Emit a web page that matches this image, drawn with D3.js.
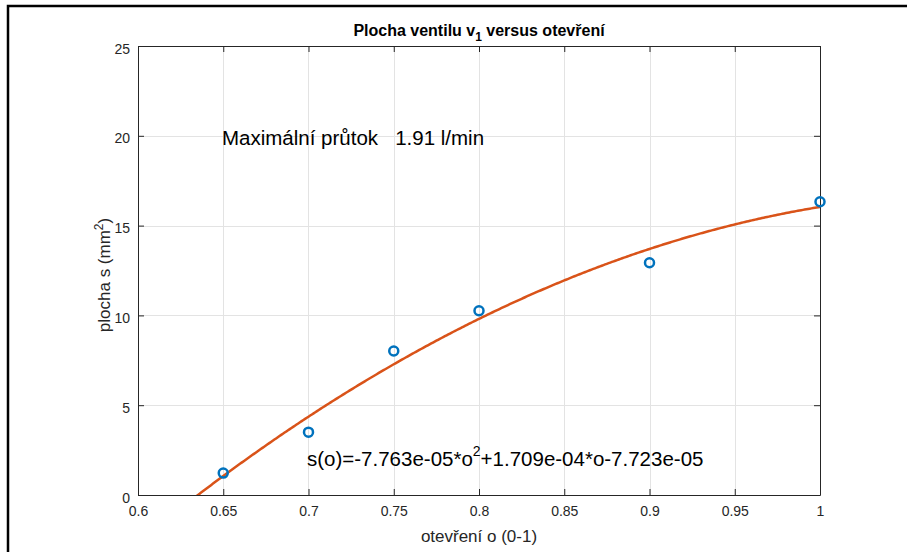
<!DOCTYPE html>
<html><head><meta charset="utf-8">
<script src="https://cdn.jsdelivr.net/npm/d3@7"></script>
<style>body{margin:0;background:#fff}svg{display:block}text{font-family:"Liberation Sans",Arial,sans-serif}</style>
</head><body>
<script>
const openings = [0.65, 0.7, 0.75, 0.8, 0.9, 1.0];
const areas = [1.22, 3.5, 8.02, 10.26, 12.93, 16.33];
const fitCoeffs = [-7.763e-05, 1.709e-04, -7.723e-05]; // m^2 -> shown in mm^2
const xTicks = [0.6, 0.65, 0.7, 0.75, 0.8, 0.85, 0.9, 0.95, 1];
const yTicks = [0, 5, 10, 15, 20, 25];
const xTickLabels = ["0.6","0.65","0.7","0.75","0.8","0.85","0.9","0.95","1"];
const yTickLabels = ["0","5","10","15","20","25"];

(function(){
const W = 907, H = 552;
const L = 138, R = 820, T = 46, B = 495;
const svg = d3.select("body").append("svg").attr("width", W).attr("height", H);
svg.append("rect").attr("width", W).attr("height", H).attr("fill", "#fff");
// figure border
svg.append("path").attr("d", `M8,${H} L8,6 L${W},6`).attr("fill","none").attr("stroke","#000").attr("stroke-width",2.5);

const x = d3.scaleLinear().domain([0.6, 1]).range([L, R]);
const y = d3.scaleLinear().domain([0, 25]).range([B, T]);

// grid
const g = svg.append("g");
g.selectAll(".gx").data(xTicks).join("line")
  .attr("x1", d => Math.round(x(d))+0.5).attr("x2", d => Math.round(x(d))+0.5)
  .attr("y1", T).attr("y2", B).attr("stroke", "#e3e3e3").attr("stroke-width", 1);
g.selectAll(".gy").data(yTicks).join("line")
  .attr("y1", d => Math.round(y(d))+0.5).attr("y2", d => Math.round(y(d))+0.5)
  .attr("x1", L).attr("x2", R).attr("stroke", "#e3e3e3").attr("stroke-width", 1);

// axes (MATLAB style: inward ticks, box on)
const tl = 6;
const axCol = "#262626";
const axB = svg.append("g").attr("transform", `translate(0,${B})`)
  .call(d3.axisBottom(x).tickValues(xTicks).tickFormat((d,i)=>xTickLabels[i]).tickSizeInner(-tl).tickSizeOuter(0));
const axL = svg.append("g").attr("transform", `translate(${L},0)`)
  .call(d3.axisLeft(y).tickValues(yTicks).tickFormat((d,i)=>yTickLabels[i]).tickSizeInner(-tl).tickSizeOuter(0));
const axT = svg.append("g").attr("transform", `translate(0,${T})`)
  .call(d3.axisTop(x).tickValues(xTicks).tickFormat("").tickSizeInner(-tl).tickSizeOuter(0));
const axR = svg.append("g").attr("transform", `translate(${R},0)`)
  .call(d3.axisRight(y).tickValues(yTicks).tickFormat("").tickSizeInner(-tl).tickSizeOuter(0));
[axB,axL,axT,axR].forEach(a => {
  a.selectAll("path, line").attr("stroke", axCol).attr("stroke-width", 1);
  a.selectAll("text").attr("fill", axCol).attr("font-size", 14).attr("font-family", "'Liberation Sans',Arial,sans-serif");
});
axB.selectAll("text").attr("y", 21).attr("dy", "0");
axL.selectAll("text").attr("x", -8).attr("dy", "0.5em");

// clip
svg.append("clipPath").attr("id","clip").append("rect").attr("x",L).attr("y",T).attr("width",R-L).attr("height",B-T);

// fit curve (coefficients in m^2 scaled to mm^2)
const fx = d3.range(0, 401).map(i => 0.6 + i*0.001);
const fit = o => (fitCoeffs[0]*o*o + fitCoeffs[1]*o + fitCoeffs[2]) * 1e6;
svg.append("path").datum(fx).attr("clip-path","url(#clip)")
  .attr("d", d3.line().x(d => x(d)).y(d => y(fit(d))))
  .attr("fill","none").attr("stroke","#D95319").attr("stroke-width",2.5);

// data points
svg.selectAll(".pt").data(openings).join("circle")
  .attr("cx", d => x(d)).attr("cy", (d,i) => y(areas[i])).attr("r", 4.5)
  .attr("fill","none").attr("stroke","#0072BD").attr("stroke-width",2.5);

// title
const title = svg.append("text").attr("x", 479).attr("y", 36).attr("text-anchor","middle")
  .attr("font-size", 16).attr("font-weight","bold").attr("fill","#000");
title.append("tspan").text("Plocha ventilu v");
title.append("tspan").attr("font-size", 12).attr("dy", 5).text("1");
title.append("tspan").attr("dy", -5).text(" versus otevření");

// axis labels
svg.append("text").attr("x", 479).attr("y", 542).attr("text-anchor","middle")
  .attr("font-size", 17).attr("fill", axCol).text("otevření o (0-1)");
const yl = svg.append("text").attr("transform","translate(110,275) rotate(-90)").attr("text-anchor","middle")
  .attr("font-size", 17).attr("fill", axCol);
yl.append("tspan").text("plocha s (mm");
yl.append("tspan").attr("font-size", 12).attr("dy", -7).text("2");
yl.append("tspan").attr("dy", 7).text(")");

// annotations
svg.append("text").attr("x", 222).attr("y", 145).attr("font-size", 20.5).attr("fill","#000")
  .style("white-space","pre").text("Maximální průtok   1.91 l/min");
const eq = svg.append("text").attr("x", 307).attr("y", 466).attr("font-size", 20.5).attr("fill","#000");
eq.append("tspan").text("s(o)=-7.763e-05*o");
eq.append("tspan").attr("font-size", 14).attr("dy", -10).text("2");
eq.append("tspan").attr("dy", 10).text("+1.709e-04*o-7.723e-05");
})();
</script>
</body></html>
